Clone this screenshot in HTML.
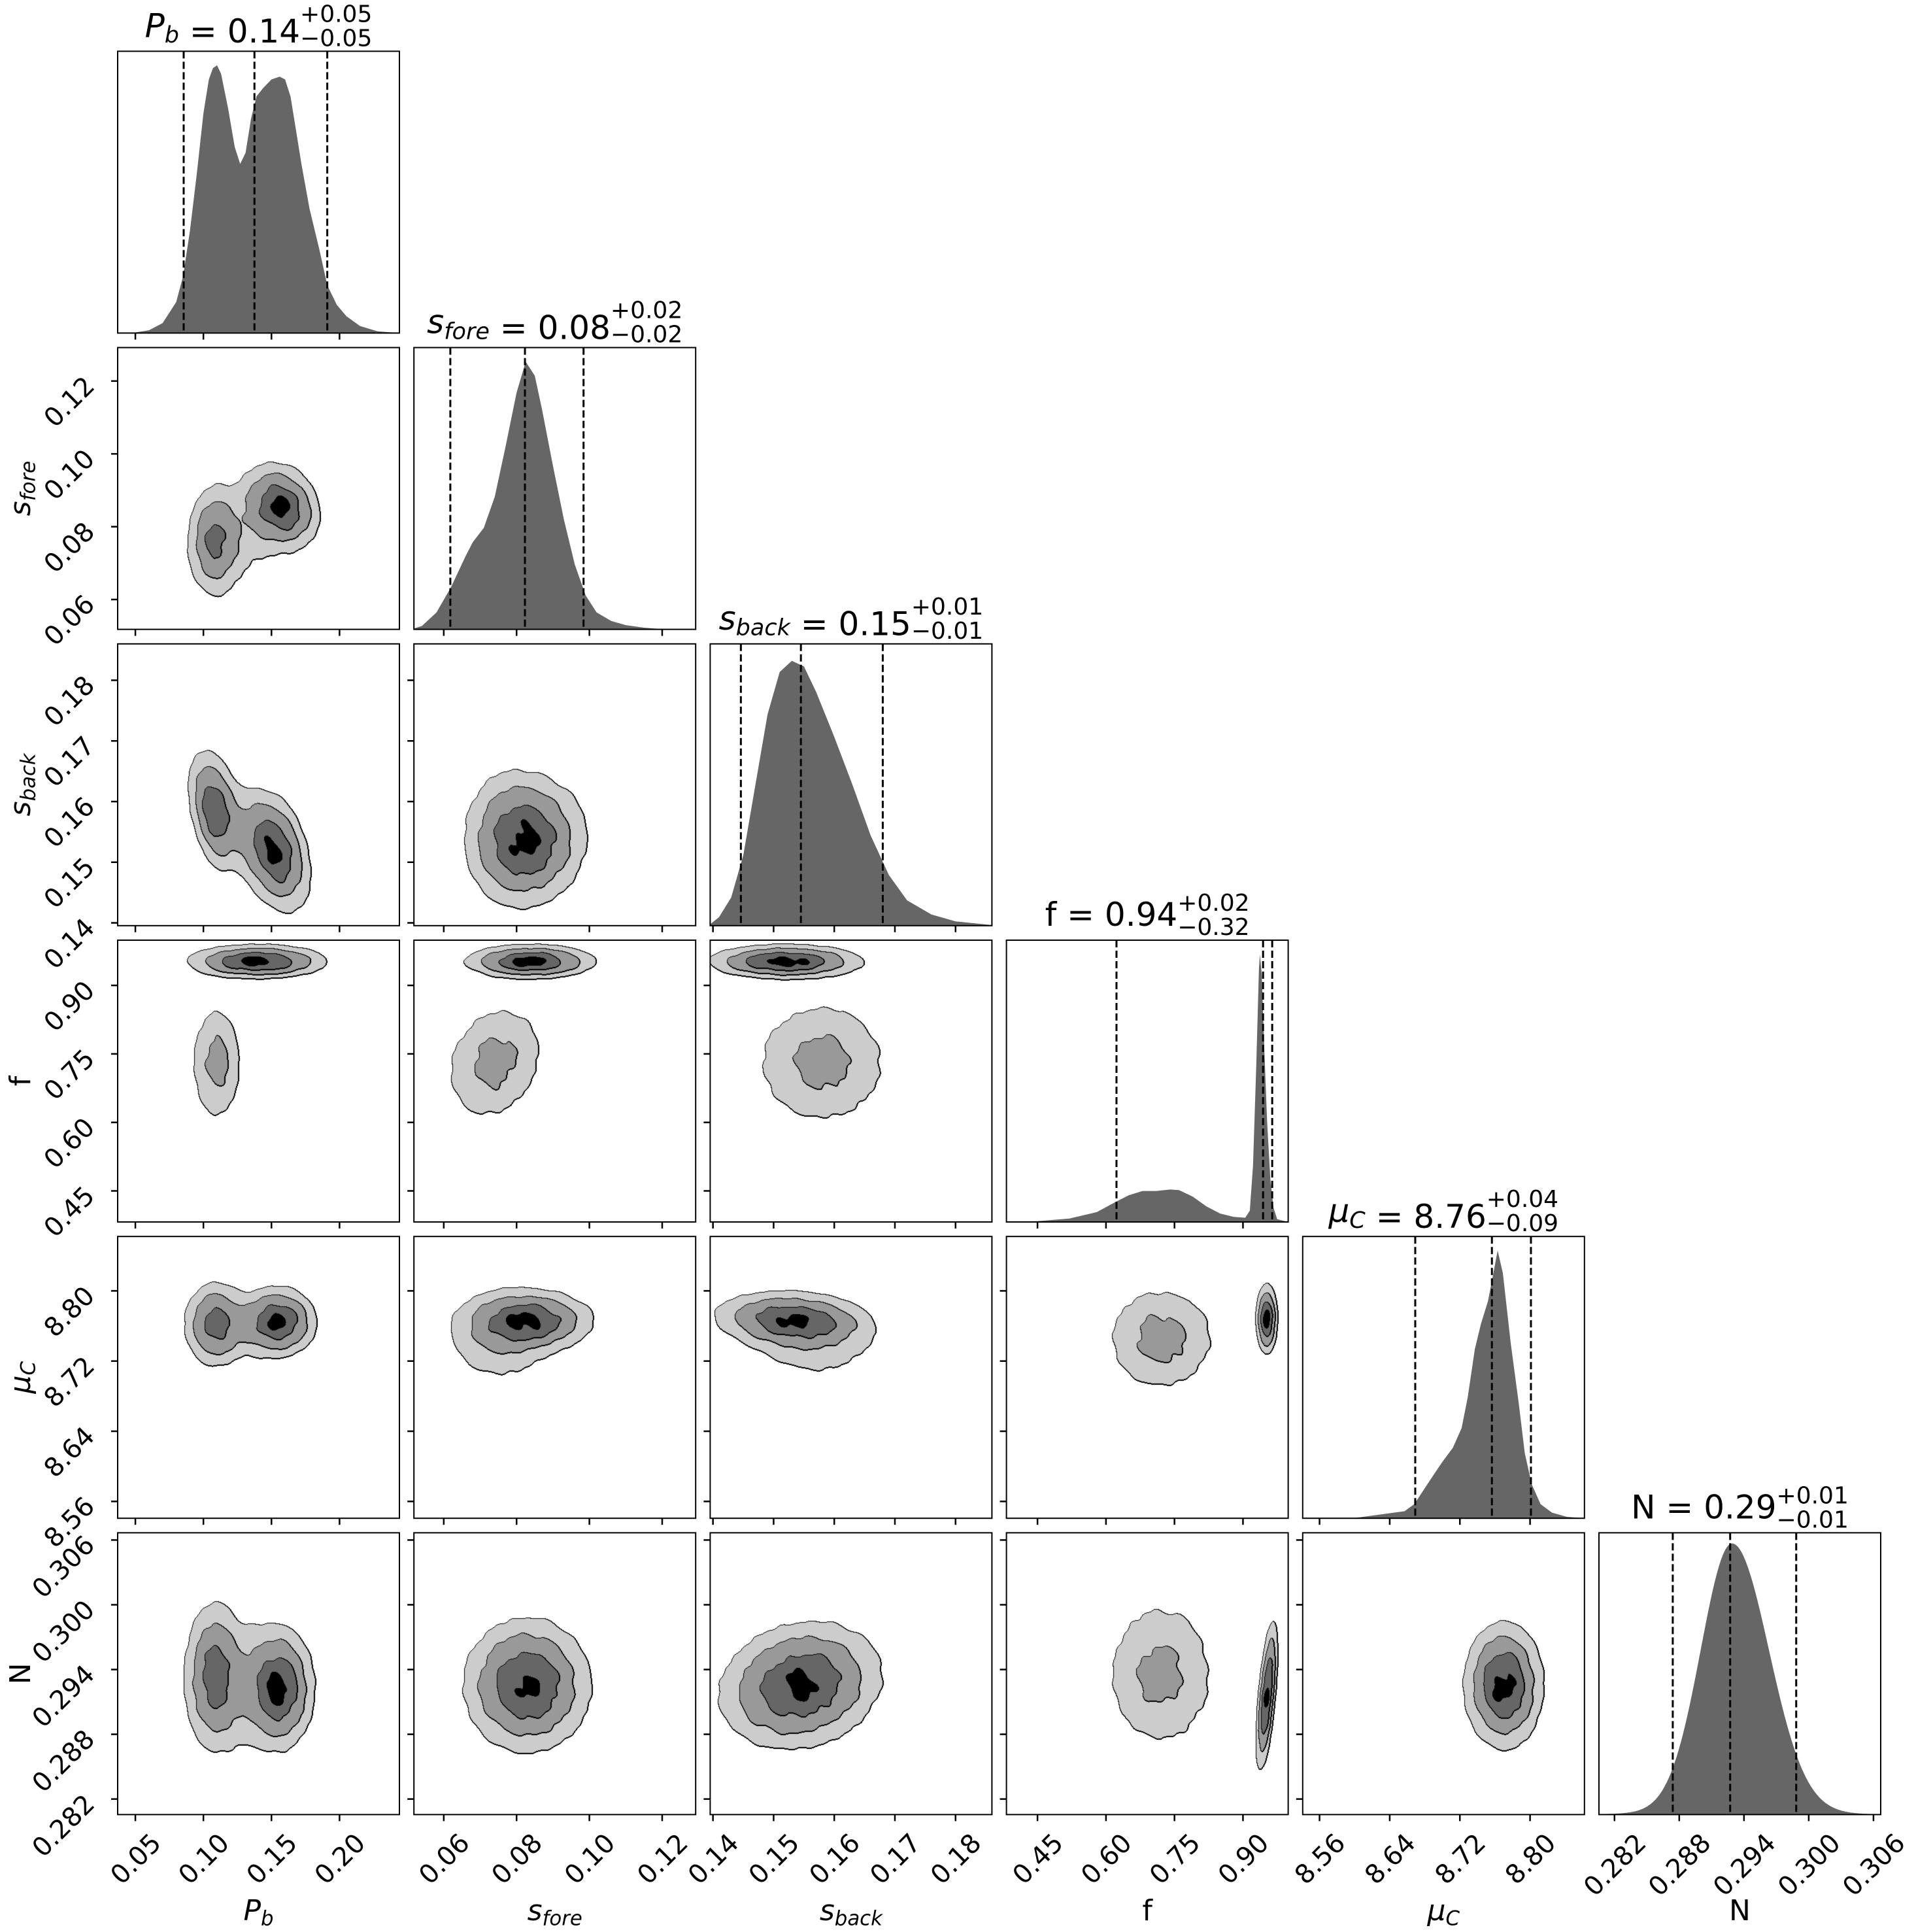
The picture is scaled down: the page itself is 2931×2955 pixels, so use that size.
<!DOCTYPE html>
<html><head><meta charset="utf-8"><style>
html,body{margin:0;padding:0;background:#fff;}
#c{position:absolute;left:0;top:0;}
#s{position:absolute;left:0;top:0;}
text{font-family:"DejaVu Sans","Liberation Sans",sans-serif;fill:#000;}
</style></head><body>
<canvas id="c" width="2931" height="2955"></canvas>
<svg id="s" width="2931" height="2955" xmlns="http://www.w3.org/2000/svg"></svg>
<script>
const S=431, PITCH=453.2, L0=180, T0=78.4;
const lefts=[0,1,2,3,4,5].map(i=>L0+PITCH*i), tops=[0,1,2,3,4,5].map(i=>T0+PITCH*i);
const P=[
 {min:0.037,max:0.244,ticks:[0.05,0.10,0.15,0.20],d:2},
 {min:0.0518,max:0.1292,ticks:[0.06,0.08,0.10,0.12],d:2},
 {min:0.13954,max:0.186,ticks:[0.14,0.15,0.16,0.17,0.18],d:2},
 {min:0.382,max:0.999,ticks:[0.45,0.60,0.75,0.90],d:2},
 {min:8.5408,max:8.862,ticks:[8.56,8.64,8.72,8.80],d:2},
 {min:0.28056,max:0.30667,ticks:[0.282,0.288,0.294,0.300,0.306],d:3}];
const X=(i,v)=>lefts[i]+(v-P[i].min)/(P[i].max-P[i].min)*S;
const Y=(r,j,v)=>tops[r]+(P[j].max-v)/(P[j].max-P[j].min)*S;
const NAME=[
 '<tspan font-style="italic">P</tspan><tspan font-style="italic" font-size="0.7em" dy="0.25em">b</tspan><tspan dy="-0.25em"></tspan>',
 '<tspan font-style="italic">s</tspan><tspan font-style="italic" font-size="0.7em" dy="0.25em">fore</tspan><tspan dy="-0.25em"></tspan>',
 '<tspan font-style="italic">s</tspan><tspan font-style="italic" font-size="0.7em" dy="0.25em">back</tspan><tspan dy="-0.25em"></tspan>',
 'f',
 '<tspan font-style="italic">μ</tspan><tspan font-style="italic" font-size="0.7em" dy="0.25em">C</tspan><tspan dy="-0.25em"></tspan>',
 'N'];
const TITLE=[['0.14','+0.05','−0.05'],['0.08','+0.02','−0.02'],['0.15','+0.01','−0.01'],['0.94','+0.02','−0.32'],['8.76','+0.04','−0.09'],['0.29','+0.01','−0.01']];
const Q=[[0.0855,0.1375,0.191],[0.0618,0.0823,0.0984],[0.1446,0.1545,0.168],[0.623,0.944,0.964],[8.6691,8.7565,8.801],[0.2874,0.29272,0.29884]];
function gauss(v,m,s){return Math.exp(-0.5*((v-m)/s)**2);}
const H=[
 [[0.037,0],[0.05,0.002],[0.06,0.01],[0.07,0.035],[0.08,0.11],[0.085,0.2],[0.09,0.36],[0.095,0.56],[0.10,0.78],[0.104,0.9],[0.107,0.94],[0.110,0.95],[0.113,0.92],[0.118,0.8],[0.123,0.66],[0.127,0.6],[0.131,0.64],[0.135,0.76],[0.139,0.84],[0.144,0.87],[0.15,0.9],[0.156,0.91],[0.16,0.9],[0.164,0.84],[0.168,0.72],[0.172,0.6],[0.178,0.44],[0.185,0.3],[0.191,0.17],[0.198,0.1],[0.205,0.06],[0.215,0.025],[0.228,0.006],[0.244,0]],
 [[0.0518,0.003],[0.054,0.012],[0.058,0.06],[0.062,0.15],[0.066,0.26],[0.068,0.31],[0.071,0.36],[0.074,0.47],[0.077,0.65],[0.080,0.84],[0.0825,0.95],[0.085,0.9],[0.087,0.78],[0.09,0.58],[0.093,0.39],[0.096,0.23],[0.099,0.12],[0.102,0.06],[0.106,0.03],[0.11,0.015],[0.115,0.006],[0.12,0.001],[0.1292,0]],
 [[0.13954,0.005],[0.141,0.03],[0.143,0.1],[0.145,0.25],[0.147,0.5],[0.149,0.75],[0.151,0.9],[0.153,0.94],[0.155,0.92],[0.157,0.83],[0.16,0.67],[0.163,0.5],[0.166,0.32],[0.169,0.18],[0.172,0.09],[0.176,0.04],[0.18,0.015],[0.186,0.002]],
 [[0.382,0],[0.45,0.003],[0.52,0.012],[0.58,0.035],[0.62,0.07],[0.65,0.095],[0.68,0.11],[0.71,0.11],[0.74,0.115],[0.76,0.113],[0.79,0.09],[0.82,0.055],[0.85,0.03],[0.88,0.018],[0.905,0.015],[0.915,0.04],[0.922,0.2],[0.929,0.55],[0.935,0.9],[0.937,0.95],[0.941,0.88],[0.947,0.6],[0.953,0.35],[0.96,0.15],[0.967,0.05],[0.975,0.01],[0.999,0]],
 [[8.5408,0],[8.60,0.001],[8.638,0.017],[8.657,0.025],[8.668,0.05],[8.687,0.14],[8.70,0.2],[8.712,0.25],[8.722,0.32],[8.729,0.43],[8.737,0.6],[8.744,0.69],[8.752,0.77],[8.757,0.85],[8.763,0.95],[8.769,0.87],[8.778,0.62],[8.787,0.41],[8.794,0.23],[8.802,0.12],[8.812,0.05],[8.825,0.02],[8.842,0.005],[8.862,0]],
 null];
(function(){const a=[];for(let v=0.28056;v<=0.30667;v+=0.0001){const m=0.2929;let h=v<m?gauss(v,m,0.0029):gauss(v,m,0.0034);h=0.95*h+0.012*gauss(v,m,0.006);a.push([v,h]);}H[5]=a;})();

const C={
 '1,0':[[0.108,0.076,0.010,0.008,0,0.7],[0.158,0.0855,0.014,0.0058,-0.2,1],[0.133,0.08,0.025,0.01,0.3,0.28]],
 '2,0':[[0.108,0.1585,0.009,0.005,-0.3,0.9],[0.153,0.152,0.013,0.005,-0.3,1],[0.13,0.155,0.025,0.007,-0.7,0.3]],
 '2,1':[[0.083,0.153,0.0085,0.0055,0.1,1],[0.078,0.158,0.007,0.005,0,0.25]],
 '3,0':[[0.14,0.952,0.026,0.019,0,1],[0.11,0.73,0.011,0.075,0,0.42]],
 '3,1':[[0.084,0.952,0.009,0.019,0,1],[0.074,0.73,0.008,0.075,0.2,0.42]],
 '3,2':[[0.152,0.952,0.0064,0.019,0,1],[0.158,0.73,0.0065,0.08,0,0.42]],
 '4,0':[[0.108,8.762,0.011,0.026,0,0.75],[0.156,8.765,0.014,0.02,0,1],[0.13,8.76,0.025,0.025,0,0.3]],
 '4,1':[[0.084,8.766,0.009,0.018,0,1],[0.075,8.745,0.009,0.032,0,0.35]],
 '4,2':[[0.153,8.767,0.0066,0.016,-0.15,1],[0.156,8.745,0.007,0.03,-0.15,0.35]],
 '4,3':[[0.952,8.768,0.012,0.02,0,1],[0.72,8.745,0.07,0.035,0,0.42]],
 '5,0':[[0.108,0.2935,0.011,0.0036,0,0.75],[0.156,0.2922,0.013,0.0028,0,1],[0.13,0.2925,0.025,0.004,0,0.3]],
 '5,1':[[0.083,0.2925,0.009,0.0032,0,1]],
 '5,2':[[0.1545,0.2925,0.0068,0.003,0.15,1]],
 '5,3':[[0.952,0.2915,0.012,0.0035,0.6,1],[0.72,0.2935,0.07,0.004,0,0.42]],
 '5,4':[[8.77,0.2925,0.023,0.003,0,1]]
};
const ctx=document.getElementById('c').getContext('2d');
ctx.fillStyle='#fff';ctx.fillRect(0,0,2931,2955);
const COL=[[255,255,255],[204,204,204],[153,153,153],[102,102,102],[0,0,0]];
const TH=[0.135,0.32,0.6,0.88];
for(const k in C){
 const [r,c]=k.split(',').map(Number);const comps=C[k];
 const d=new Float32Array(S*S);let mx=0;
 for(let py=0;py<S;py++)for(let px=0;px<S;px++){
  const xv=P[c].min+(px+0.5)/S*(P[c].max-P[c].min);
  const yv=P[r].max-(py+0.5)/S*(P[r].max-P[r].min);
  let s=0;
  for(const g of comps){const dx=(xv-g[0])/g[2],dy=(yv-g[1])/g[3];const q=(dx*dx-2*g[4]*dx*dy+dy*dy)/(1-g[4]*g[4]);s+=g[5]*Math.exp(-q/2);}
  s*=1+0.07*Math.sin(px*0.11+py*0.05+c)*Math.cos(py*0.09-px*0.04+r)+0.03*Math.sin(px*0.23-py*0.19+r*c);
  d[py*S+px]=s;if(s>mx)mx=s;}
 const lv=new Uint8Array(S*S);
 for(let i=0;i<S*S;i++){let l=0;for(let t=0;t<4;t++)if(d[i]>=TH[t]*mx)l=t+1;lv[i]=l;}
 const im=ctx.createImageData(S,S);
 for(let py=0;py<S;py++)for(let px=0;px<S;px++){
  const i=py*S+px;let l=lv[i];let col=COL[l];
  let edge=false;
  if(px>0&&lv[i-1]>l)edge=true;
  if(py>0&&lv[i-S]>l)edge=true;
  if(px+1<S&&lv[i+1]!=l)edge=true;
  if(py+1<S&&lv[i+S]!=l)edge=true;
  if(edge)col=[0,0,0];
  im.data[i*4]=col[0];im.data[i*4+1]=col[1];im.data[i*4+2]=col[2];im.data[i*4+3]=255;}
 ctx.putImageData(im,Math.round(lefts[c]),Math.round(tops[r]));
}
let h='';
const fmt=(v,dd)=>v.toFixed(dd);
for(let r=0;r<6;r++)for(let c=0;c<=r;c++){
 const x0=lefts[c],y0=tops[r];
 if(r==c){
  const pts=H[c].map(p=>[X(c,p[0]),y0+S-p[1]*S]);
  let dpath='M'+X(c,H[c][0][0]).toFixed(1)+','+(y0+S)+' '+pts.map(p=>'L'+p[0].toFixed(1)+','+p[1].toFixed(1)).join(' ')+' L'+pts[pts.length-1][0].toFixed(1)+','+(y0+S)+'Z';
  h+=`<clipPath id="cp${c}"><rect x="${x0}" y="${y0}" width="${S}" height="${S}"/></clipPath>`;
  h+=`<path d="${dpath}" fill="#666" clip-path="url(#cp${c})"/>`;
  for(const q of Q[c]){const xx=X(c,q);h+=`<line x1="${xx}" y1="${y0}" x2="${xx}" y2="${y0+S}" stroke="#000" stroke-width="3" stroke-dasharray="11 5"/>`;}
 } else {
  for(const t of P[r].ticks){const yy=Y(r,r,t);h+=`<line x1="${x0-10}" y1="${yy}" x2="${x0}" y2="${yy}" stroke="#000" stroke-width="2.5"/>`;}
 }
 for(const t of P[c].ticks){const xx=X(c,t);h+=`<line x1="${xx}" y1="${y0+S}" x2="${xx}" y2="${y0+S+10}" stroke="#000" stroke-width="2.5"/>`;}
 h+=`<rect x="${x0}" y="${y0}" width="${S}" height="${S}" fill="none" stroke="#000" stroke-width="2"/>`;
}
const FS=40;
function lw(s){let w=0;for(const ch of s)w+=(ch=='.'?0.318:0.636);return w*FS;}
for(let c=0;c<6;c++){
 const yb=tops[5]+S;
 for(const t of P[c].ticks){const s=fmt(t,P[c].d);const L=lw(s);const ax=X(c,t)+(L+29)/2.83;const ay=yb+46;
  h+=`<text transform="translate(${ax.toFixed(1)},${ay}) rotate(-45)" text-anchor="end" font-size="${FS}">${s}</text>`;}
 h+=`<text x="${lefts[c]+S/2}" y="2937" text-anchor="middle" font-size="44">${NAME[c]}</text>`;
}
for(let r=1;r<6;r++){
 for(const t of P[r].ticks){const s=fmt(t,P[r].d);const ay=Y(r,r,t)+10;
  h+=`<text transform="translate(147,${ay.toFixed(1)}) rotate(-45)" text-anchor="end" font-size="${FS}">${s}</text>`;}
 h+=`<text transform="translate(46,${tops[r]+S/2}) rotate(-90)" text-anchor="middle" font-size="44">${NAME[r]}</text>`;
}
for(let c=0;c<6;c++){
 h+=`<g><text id="tm${c}" x="0" y="${tops[c]-22}" font-size="50">${NAME[c]} = ${TITLE[c][0]}</text>`+
 `<text id="tp${c}" x="0" y="${tops[c]-45}" font-size="36">${TITLE[c][1]}</text>`+
 `<text id="tn${c}" x="0" y="${tops[c]-8}" font-size="36">${TITLE[c][2]}</text></g>`;
}
const svg=document.getElementById('s');svg.innerHTML=h;
for(let c=0;c<6;c++){
 const m=document.getElementById('tm'+c),p=document.getElementById('tp'+c),n=document.getElementById('tn'+c);
 let mw=m.getComputedTextLength();
 let sw=Math.max(p.getComputedTextLength(),n.getComputedTextLength());
 const x=lefts[c]+S/2-(mw+sw)/2;
 m.setAttribute('x',x);p.setAttribute('x',x+mw);n.setAttribute('x',x+mw);
}
</script>
</body></html>
